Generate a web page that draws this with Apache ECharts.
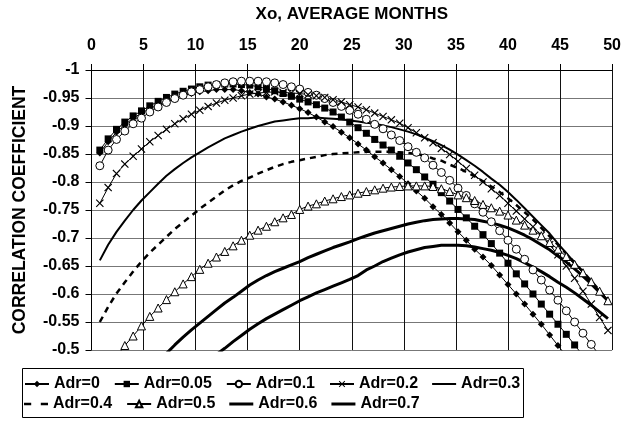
<!DOCTYPE html>
<html>
<head>
<meta charset="utf-8">
<script src="https://cdn.jsdelivr.net/npm/echarts@6/dist/echarts.min.js"></script>
<style>
  html, body { margin: 0; padding: 0; background: #fff; }
  #chart { width: 624px; height: 421px; }
</style>
</head>
<body>
<div id="chart"></div>
<script>
// x positions (months) shared by all curves
const xMonths = [0.8, 1.6, 2.4, 3.2, 4.0, 4.8, 5.6, 6.4, 7.2, 8.0, 8.8, 9.6, 10.4, 11.2, 12.0, 12.8,
    13.6, 14.4, 15.2, 16.0, 16.8, 17.6, 18.4, 19.2, 20.0, 20.8, 21.6, 22.4, 23.2, 24.0, 24.8, 25.6,
    26.4, 27.2, 28.0, 28.8, 29.6, 30.4, 31.2, 32.0, 32.8, 33.6, 34.4, 35.2, 36.0, 36.8, 37.6, 38.4,
    39.2, 40.0, 40.8, 41.6, 42.4, 43.2, 44.0, 44.8, 45.6, 46.4, 47.2, 48.0, 48.8, 49.6];

const adr0 = [-0.852, -0.872, -0.889, -0.902, -0.914, -0.923, -0.931, -0.938, -0.944, -0.950,
    -0.954, -0.958, -0.961, -0.963, -0.965, -0.965, -0.965, -0.963, -0.960, -0.957,
    -0.952, -0.948, -0.943, -0.937, -0.931, -0.924, -0.916, -0.907, -0.899, -0.889,
    -0.879, -0.868, -0.857, -0.845, -0.834, -0.822, -0.810, -0.797, -0.784, -0.771,
    -0.756, -0.742, -0.727, -0.711, -0.696, -0.680, -0.666, -0.651, -0.634, -0.617,
    -0.600, -0.582, -0.564, -0.546, -0.527, -0.508, -0.489, null, null, null, null, null];

const adr005 = [-0.857, -0.877, -0.894, -0.907, -0.918, -0.927, -0.936, -0.944, -0.951, -0.957,
    -0.962, -0.966, -0.970, -0.973, -0.974, -0.975, -0.975, -0.974, -0.973, -0.970,
    -0.967, -0.963, -0.958, -0.953, -0.948, -0.943, -0.938, -0.932, -0.925, -0.916,
    -0.907, -0.897, -0.887, -0.876, -0.866, -0.857, -0.846, -0.834, -0.822, -0.809,
    -0.796, -0.781, -0.766, -0.751, -0.736, -0.721, -0.706, -0.690, -0.673, -0.655,
    -0.636, -0.618, -0.600, -0.582, -0.564, -0.546, -0.528, -0.509, -0.490, null, null, null];

const adr01 = [-0.829, -0.857, -0.876, -0.891, -0.904, -0.914, -0.925, -0.934, -0.942, -0.949,
    -0.955, -0.961, -0.965, -0.970, -0.974, -0.977, -0.979, -0.980, -0.980, -0.980,
    -0.979, -0.977, -0.974, -0.970, -0.966, -0.960, -0.955, -0.949, -0.942, -0.935,
    -0.928, -0.921, -0.912, -0.903, -0.895, -0.884, -0.874, -0.863, -0.853, -0.843,
    -0.830, -0.817, -0.803, -0.789, -0.776, -0.761, -0.746, -0.729, -0.713, -0.696,
    -0.680, -0.662, -0.643, -0.625, -0.607, -0.589, -0.570, -0.550, -0.530, -0.510,
    -0.490, null];

const adr02 = [-0.762, -0.790, -0.815, -0.832, -0.846, -0.859, -0.872, -0.883, -0.894, -0.904,
    -0.913, -0.921, -0.928, -0.935, -0.941, -0.946, -0.950, -0.954, -0.957, -0.959,
    -0.960, -0.961, -0.960, -0.959, -0.958, -0.956, -0.954, -0.951, -0.947, -0.943,
    -0.938, -0.934, -0.929, -0.923, -0.917, -0.911, -0.905, -0.897, -0.888, -0.879,
    -0.870, -0.860, -0.849, -0.837, -0.824, -0.812, -0.800, -0.788, -0.776, -0.762,
    -0.748, -0.734, -0.720, -0.705, -0.688, -0.670, -0.650, -0.628, -0.605, -0.582,
    -0.558, -0.535];

const adr03 = [-0.660, -0.688, -0.711, -0.731, -0.750, -0.767, -0.782, -0.797, -0.811, -0.823,
    -0.834, -0.844, -0.853, -0.862, -0.870, -0.878, -0.884, -0.890, -0.895, -0.900,
    -0.904, -0.908, -0.910, -0.912, -0.914, -0.914, -0.915, -0.914, -0.913, -0.912,
    -0.910, -0.908, -0.906, -0.904, -0.901, -0.898, -0.894, -0.890, -0.885, -0.879,
    -0.873, -0.866, -0.858, -0.849, -0.839, -0.829, -0.818, -0.806, -0.795, -0.782,
    -0.768, -0.753, -0.738, -0.723, -0.708, -0.690, -0.673, -0.656, -0.639, -0.622,
    -0.605, -0.588];

const adr04 = [-0.550, -0.577, -0.601, -0.621, -0.640, -0.658, -0.674, -0.688, -0.702, -0.716,
    -0.728, -0.740, -0.752, -0.763, -0.774, -0.785, -0.794, -0.802, -0.808, -0.815,
    -0.821, -0.827, -0.832, -0.836, -0.839, -0.842, -0.845, -0.848, -0.850, -0.851,
    -0.852, -0.853, -0.854, -0.854, -0.854, -0.854, -0.853, -0.852, -0.850, -0.847,
    -0.842, -0.838, -0.831, -0.825, -0.818, -0.810, -0.801, -0.792, -0.782, -0.771,
    -0.759, -0.746, -0.733, -0.718, -0.703, -0.688, -0.672, -0.656, -0.640, -0.623,
    -0.606, -0.589];

const adr05 = [null, null, -0.488, -0.508, -0.525, -0.543, -0.560, -0.575, -0.590, -0.604,
    -0.618, -0.631, -0.644, -0.655, -0.666, -0.676, -0.686, -0.696, -0.705, -0.714,
    -0.721, -0.729, -0.736, -0.742, -0.751, -0.757, -0.761, -0.766, -0.770, -0.774,
    -0.777, -0.780, -0.783, -0.786, -0.789, -0.791, -0.792, -0.793, -0.793, -0.793,
    -0.792, -0.788, -0.783, -0.777, -0.772, -0.767, -0.760, -0.754, -0.748, -0.741,
    -0.732, -0.723, -0.714, -0.704, -0.692, -0.680, -0.667, -0.653, -0.638, -0.622,
    -0.605, -0.588];

const adr06 = [null, null, null, null, null, null, null, -0.479, -0.494, -0.509,
    -0.523, -0.536, -0.548, -0.560, -0.572, -0.584, -0.594, -0.605, -0.616, -0.625,
    -0.633, -0.640, -0.646, -0.652, -0.658, -0.665, -0.671, -0.677, -0.683, -0.688,
    -0.693, -0.699, -0.704, -0.709, -0.713, -0.717, -0.721, -0.725, -0.728, -0.731,
    -0.733, -0.734, -0.735, -0.735, -0.734, -0.733, -0.730, -0.727, -0.723, -0.718,
    -0.712, -0.705, -0.697, -0.688, -0.679, -0.668, -0.657, -0.645, -0.632, -0.618,
    -0.603, -0.588];

const adr07 = [null, null, null, null, null, null, null, null, null, null,
    null, null, null, -0.482, -0.492, -0.503, -0.515, -0.526, -0.537, -0.547,
    -0.556, -0.564, -0.572, -0.580, -0.588, -0.595, -0.602, -0.608, -0.614, -0.620,
    -0.626, -0.633, -0.643, -0.650, -0.658, -0.664, -0.670, -0.675, -0.679, -0.683,
    -0.685, -0.687, -0.687, -0.687, -0.686, -0.684, -0.681, -0.678, -0.674, -0.669,
    -0.663, -0.656, -0.648, -0.640, -0.631, -0.621, -0.612, -0.602, -0.591, -0.580,
    -0.568, -0.556];

const seriesNames = ['Adr=0', 'Adr=0.05', 'Adr=0.1', 'Adr=0.2', 'Adr=0.3',
    'Adr=0.4', 'Adr=0.5', 'Adr=0.6', 'Adr=0.7'];
const seriesValues = [adr0, adr005, adr01, adr02, adr03, adr04, adr05, adr06, adr07];

const FONT = '"Liberation Sans", Arial, Helvetica, sans-serif';
const crossPath = 'path://M0,1L1,0L5,4L9,0L10,1L6,5L10,9L9,10L5,6L1,10L0,9L4,5Z';

// look of each curve, same order as seriesNames
const looks = [
    { symbol: 'diamond', size: 7, fill: '#000', width: 1 },
    { symbol: 'rect', size: 7, fill: '#000', width: 1 },
    { symbol: 'circle', size: 8, fill: '#fff', width: 1 },
    { symbol: crossPath, size: 8, fill: '#000', width: 1 },
    { symbol: 'none', width: 2, icon: 'path://M0,0H24V2H0Z' },
    { symbol: 'none', width: 2.5, dashed: true, icon: 'path://M0,0H6V2H0ZM14,0H20V2H14Z' },
    { symbol: 'triangle', size: 8, fill: '#fff', width: 1 },
    { symbol: 'none', width: 3, icon: 'path://M0,0H24V3H0Z' },
    { symbol: 'none', width: 3, icon: 'path://M0,0H24V3H0Z' }
];

function pairs(values) {
    return xMonths.map(function (x, i) { return [x, values[i]]; });
}

const series = seriesNames.map(function (name, i) {
    const look = looks[i];
    return {
        name: name,
        type: 'line',
        data: pairs(seriesValues[i]),
        symbol: look.symbol,
        symbolSize: look.size || 0,
        showSymbol: look.symbol !== 'none',
        animation: false,
        lineStyle: {
            color: '#000',
            width: look.width,
            type: look.dashed ? [6, 5] : 'solid'
        },
        itemStyle: {
            color: look.fill || '#000',
            borderColor: '#000',
            borderWidth: look.fill === '#fff' ? 1 : 0
        },
        emphasis: { disabled: true }
    };
});

function legendItems(from, to) {
    return seriesNames.slice(from, to).map(function (name, k) {
        const look = looks[from + k];
        return look.icon ? { name: name, icon: look.icon } : { name: name };
    });
}

function legendRow(data, top) {
    return {
        data: data,
        left: 24,
        top: top,
        orient: 'horizontal',
        itemWidth: 24,
        itemHeight: 8,
        itemGap: 14,
        padding: 0,
        selectedMode: false,
        symbolKeepAspect: true,
        textStyle: { fontFamily: FONT, fontWeight: 'bold', fontSize: 16, color: '#000' }
    };
}

const chart = echarts.init(document.getElementById('chart'), null, { renderer: 'canvas' });
chart.setOption({
    backgroundColor: '#fff',
    animation: false,
    textStyle: { fontFamily: FONT },
    grid: { left: 91.5, right: 7.5, top: 70, bottom: 71 },
    xAxis: {
        type: 'value',
        position: 'top',
        min: 0,
        max: 50,
        interval: 5,
        name: 'Xo, AVERAGE MONTHS',
        nameLocation: 'middle',
        nameGap: 47,
        nameTextStyle: { fontFamily: FONT, fontWeight: 'bold', fontSize: 17, color: '#000' },
        axisLine: { show: true, lineStyle: { color: '#000', width: 1 } },
        axisTick: { show: true, inside: false, length: 6, lineStyle: { color: '#000' } },
        axisLabel: { fontFamily: FONT, fontWeight: 'bold', fontSize: 16, color: '#000', margin: 16 },
        splitLine: { show: true, lineStyle: { color: '#111', width: 1 } }
    },
    yAxis: {
        type: 'value',
        inverse: true,
        min: -1,
        max: -0.5,
        interval: 0.05,
        name: 'CORRELATION COEFFICIENT',
        nameLocation: 'middle',
        nameGap: 62,
        nameRotate: 90,
        nameTextStyle: { fontFamily: FONT, fontWeight: 'bold', fontSize: 17.5, color: '#000' },
        axisLine: { show: true, lineStyle: { color: '#000', width: 1 } },
        axisTick: { show: true, inside: false, length: 6, lineStyle: { color: '#000' } },
        axisLabel: {
            fontFamily: FONT, fontWeight: 'bold', fontSize: 16, color: '#000', margin: 12,
            formatter: function (v) { return String(Math.round(v * 100) / 100); }
        },
        splitLine: { show: true, lineStyle: { color: '#777', width: 1 } }
    },
    legend: [
        legendRow(legendItems(0, 5), 376),
        legendRow(legendItems(5, 9), 396)
    ],
    // frame around the two legend rows
    graphic: [{
        type: 'rect',
        silent: true,
        shape: { x: 22.5, y: 368.5, width: 501, height: 49 },
        style: { fill: 'none', stroke: '#000', lineWidth: 1 }
    }],
    series: series
});
</script>
</body>
</html>
